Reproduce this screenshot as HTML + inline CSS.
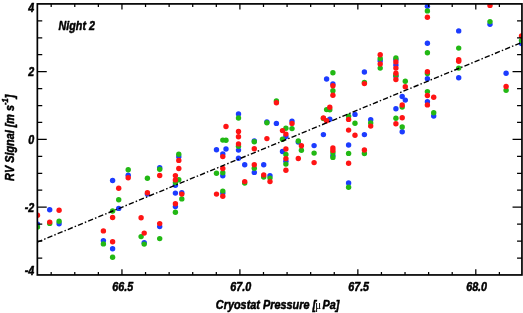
<!DOCTYPE html>
<html lang="en">
<head>
<meta charset="utf-8">
<title>RV Signal vs Cryostat Pressure - Night 2</title>
<style>
html,body{margin:0;padding:0;background:#fff;}
body{width:523px;height:313px;overflow:hidden;}
svg{display:block;}
text{font-family:"Liberation Sans",Arial,Helvetica,sans-serif;font-weight:bold;font-style:italic;font-size:12.4px;fill:#000;stroke:#000;stroke-width:0.5px;stroke-linejoin:round;}
.sym{font-family:"Liberation Serif","DejaVu Serif",serif;font-style:normal;font-weight:normal;stroke-width:0.15px;}
</style>
</head>
<body>
<svg width="523" height="313" viewBox="0 0 523 313">
<rect x="0" y="0" width="523" height="313" fill="#ffffff"/>
<defs><clipPath id="plot"><rect x="37.35" y="3.90" width="484.60" height="271.05"/></clipPath></defs>

<g clip-path="url(#plot)">
<g fill="#1c3cff">
<circle cx="37.5" cy="224.1" r="2.70"/>
<circle cx="49.7" cy="209.8" r="2.70"/>
<circle cx="59.1" cy="223.8" r="2.70"/>
<circle cx="103.4" cy="240.6" r="2.70"/>
<circle cx="112.6" cy="180.5" r="2.70"/>
<circle cx="112.6" cy="248.8" r="2.70"/>
<circle cx="118.7" cy="208.4" r="2.70"/>
<circle cx="128.2" cy="175.3" r="2.70"/>
<circle cx="144.2" cy="242.7" r="2.70"/>
<circle cx="147.4" cy="194.1" r="2.70"/>
<circle cx="159.7" cy="167.8" r="2.70"/>
<circle cx="159.7" cy="226.6" r="2.70"/>
<circle cx="175.4" cy="185.3" r="2.70"/>
<circle cx="175.4" cy="193.1" r="2.70"/>
<circle cx="175.4" cy="206.6" r="2.70"/>
<circle cx="178.8" cy="156.8" r="2.70"/>
<circle cx="181.8" cy="192.8" r="2.70"/>
<circle cx="216.5" cy="149.7" r="2.70"/>
<circle cx="222.8" cy="154.0" r="2.70"/>
<circle cx="222.8" cy="175.8" r="2.70"/>
<circle cx="222.8" cy="193.1" r="2.70"/>
<circle cx="226.0" cy="149.0" r="2.70"/>
<circle cx="238.5" cy="113.9" r="2.70"/>
<circle cx="238.5" cy="150.1" r="2.70"/>
<circle cx="238.5" cy="158.2" r="2.70"/>
<circle cx="244.7" cy="164.8" r="2.70"/>
<circle cx="254.3" cy="140.9" r="2.70"/>
<circle cx="254.3" cy="172.4" r="2.70"/>
<circle cx="263.7" cy="164.8" r="2.70"/>
<circle cx="266.9" cy="121.9" r="2.70"/>
<circle cx="270.0" cy="175.8" r="2.70"/>
<circle cx="276.4" cy="123.4" r="2.70"/>
<circle cx="282.5" cy="151.5" r="2.70"/>
<circle cx="285.9" cy="136.4" r="2.70"/>
<circle cx="285.9" cy="161.2" r="2.70"/>
<circle cx="292.0" cy="121.1" r="2.70"/>
<circle cx="298.3" cy="142.1" r="2.70"/>
<circle cx="314.1" cy="145.6" r="2.70"/>
<circle cx="323.4" cy="134.6" r="2.70"/>
<circle cx="326.6" cy="79.0" r="2.70"/>
<circle cx="329.8" cy="119.3" r="2.70"/>
<circle cx="332.9" cy="83.9" r="2.70"/>
<circle cx="332.9" cy="155.6" r="2.70"/>
<circle cx="348.6" cy="145.0" r="2.70"/>
<circle cx="348.6" cy="183.0" r="2.70"/>
<circle cx="355.0" cy="114.4" r="2.70"/>
<circle cx="364.4" cy="72.0" r="2.70"/>
<circle cx="364.4" cy="134.6" r="2.70"/>
<circle cx="370.7" cy="119.8" r="2.70"/>
<circle cx="380.2" cy="60.7" r="2.70"/>
<circle cx="395.9" cy="59.6" r="2.70"/>
<circle cx="395.9" cy="64.9" r="2.70"/>
<circle cx="395.9" cy="76.3" r="2.70"/>
<circle cx="395.9" cy="108.7" r="2.70"/>
<circle cx="402.2" cy="96.5" r="2.70"/>
<circle cx="402.2" cy="131.8" r="2.70"/>
<circle cx="405.3" cy="100.1" r="2.70"/>
<circle cx="427.4" cy="6.3" r="2.70"/>
<circle cx="427.4" cy="43.3" r="2.70"/>
<circle cx="427.4" cy="78.7" r="2.70"/>
<circle cx="427.4" cy="101.8" r="2.70"/>
<circle cx="433.7" cy="116.0" r="2.70"/>
<circle cx="458.7" cy="30.9" r="2.70"/>
<circle cx="458.7" cy="77.8" r="2.70"/>
<circle cx="490.0" cy="24.2" r="2.70"/>
<circle cx="506.1" cy="73.2" r="2.70"/>
<circle cx="521.5" cy="43.5" r="2.70"/>
</g>
<g fill="#22b814">
<circle cx="37.5" cy="227.1" r="2.70"/>
<circle cx="49.7" cy="223.4" r="2.70"/>
<circle cx="59.1" cy="221.3" r="2.70"/>
<circle cx="103.4" cy="243.9" r="2.70"/>
<circle cx="112.6" cy="211.0" r="2.70"/>
<circle cx="112.6" cy="257.3" r="2.70"/>
<circle cx="118.7" cy="199.8" r="2.70"/>
<circle cx="128.2" cy="169.8" r="2.70"/>
<circle cx="141.1" cy="236.6" r="2.70"/>
<circle cx="144.2" cy="244.1" r="2.70"/>
<circle cx="147.4" cy="178.2" r="2.70"/>
<circle cx="159.7" cy="169.2" r="2.70"/>
<circle cx="159.7" cy="238.6" r="2.70"/>
<circle cx="175.4" cy="182.6" r="2.70"/>
<circle cx="175.4" cy="212.2" r="2.70"/>
<circle cx="178.8" cy="154.3" r="2.70"/>
<circle cx="178.8" cy="179.7" r="2.70"/>
<circle cx="181.8" cy="198.9" r="2.70"/>
<circle cx="216.5" cy="173.2" r="2.70"/>
<circle cx="222.8" cy="140.1" r="2.70"/>
<circle cx="222.8" cy="172.8" r="2.70"/>
<circle cx="222.8" cy="191.1" r="2.70"/>
<circle cx="226.0" cy="140.3" r="2.70"/>
<circle cx="238.5" cy="118.0" r="2.70"/>
<circle cx="238.5" cy="146.3" r="2.70"/>
<circle cx="244.7" cy="183.1" r="2.70"/>
<circle cx="254.3" cy="141.8" r="2.70"/>
<circle cx="254.3" cy="168.3" r="2.70"/>
<circle cx="263.7" cy="177.0" r="2.70"/>
<circle cx="266.9" cy="122.7" r="2.70"/>
<circle cx="270.0" cy="178.1" r="2.70"/>
<circle cx="276.4" cy="100.9" r="2.70"/>
<circle cx="282.5" cy="139.3" r="2.70"/>
<circle cx="285.9" cy="128.3" r="2.70"/>
<circle cx="285.9" cy="154.5" r="2.70"/>
<circle cx="285.9" cy="164.1" r="2.70"/>
<circle cx="292.0" cy="128.6" r="2.70"/>
<circle cx="298.3" cy="141.0" r="2.70"/>
<circle cx="301.4" cy="150.3" r="2.70"/>
<circle cx="314.1" cy="153.1" r="2.70"/>
<circle cx="323.4" cy="118.5" r="2.70"/>
<circle cx="326.6" cy="109.6" r="2.70"/>
<circle cx="329.8" cy="109.8" r="2.70"/>
<circle cx="332.9" cy="72.8" r="2.70"/>
<circle cx="332.9" cy="90.8" r="2.70"/>
<circle cx="332.9" cy="152.8" r="2.70"/>
<circle cx="332.9" cy="157.4" r="2.70"/>
<circle cx="348.6" cy="116.2" r="2.70"/>
<circle cx="348.6" cy="153.4" r="2.70"/>
<circle cx="348.6" cy="187.3" r="2.70"/>
<circle cx="355.0" cy="123.3" r="2.70"/>
<circle cx="364.4" cy="82.5" r="2.70"/>
<circle cx="364.4" cy="153.5" r="2.70"/>
<circle cx="370.7" cy="122.9" r="2.70"/>
<circle cx="380.2" cy="58.5" r="2.70"/>
<circle cx="380.2" cy="68.1" r="2.70"/>
<circle cx="395.9" cy="57.9" r="2.70"/>
<circle cx="395.9" cy="75.3" r="2.70"/>
<circle cx="395.9" cy="118.2" r="2.70"/>
<circle cx="402.2" cy="107.0" r="2.70"/>
<circle cx="402.2" cy="126.9" r="2.70"/>
<circle cx="405.3" cy="81.2" r="2.70"/>
<circle cx="427.4" cy="10.9" r="2.70"/>
<circle cx="427.4" cy="52.7" r="2.70"/>
<circle cx="427.4" cy="73.5" r="2.70"/>
<circle cx="427.4" cy="91.6" r="2.70"/>
<circle cx="433.7" cy="112.7" r="2.70"/>
<circle cx="458.7" cy="48.1" r="2.70"/>
<circle cx="458.7" cy="68.1" r="2.70"/>
<circle cx="490.0" cy="21.6" r="2.70"/>
<circle cx="506.1" cy="90.2" r="2.70"/>
<circle cx="521.5" cy="40.6" r="2.70"/>
</g>
<g fill="#ff1414">
<circle cx="37.5" cy="215.3" r="2.70"/>
<circle cx="49.7" cy="222.1" r="2.70"/>
<circle cx="59.1" cy="210.2" r="2.70"/>
<circle cx="103.4" cy="230.9" r="2.70"/>
<circle cx="112.6" cy="217.5" r="2.70"/>
<circle cx="112.6" cy="241.8" r="2.70"/>
<circle cx="118.7" cy="188.3" r="2.70"/>
<circle cx="128.2" cy="177.8" r="2.70"/>
<circle cx="141.1" cy="217.8" r="2.70"/>
<circle cx="144.2" cy="233.1" r="2.70"/>
<circle cx="147.4" cy="192.8" r="2.70"/>
<circle cx="159.7" cy="175.5" r="2.70"/>
<circle cx="159.7" cy="223.6" r="2.70"/>
<circle cx="175.4" cy="175.6" r="2.70"/>
<circle cx="175.4" cy="179.9" r="2.70"/>
<circle cx="175.4" cy="203.8" r="2.70"/>
<circle cx="178.8" cy="160.4" r="2.70"/>
<circle cx="178.8" cy="168.5" r="2.70"/>
<circle cx="181.8" cy="194.1" r="2.70"/>
<circle cx="216.5" cy="194.1" r="2.70"/>
<circle cx="222.8" cy="156.6" r="2.70"/>
<circle cx="222.8" cy="168.5" r="2.70"/>
<circle cx="222.8" cy="196.2" r="2.70"/>
<circle cx="226.0" cy="126.5" r="2.70"/>
<circle cx="238.5" cy="131.5" r="2.70"/>
<circle cx="238.5" cy="136.7" r="2.70"/>
<circle cx="238.5" cy="143.9" r="2.70"/>
<circle cx="244.7" cy="181.6" r="2.70"/>
<circle cx="254.3" cy="148.7" r="2.70"/>
<circle cx="254.3" cy="164.8" r="2.70"/>
<circle cx="263.7" cy="174.9" r="2.70"/>
<circle cx="266.9" cy="138.6" r="2.70"/>
<circle cx="270.0" cy="181.6" r="2.70"/>
<circle cx="276.4" cy="102.7" r="2.70"/>
<circle cx="282.5" cy="130.6" r="2.70"/>
<circle cx="285.9" cy="134.1" r="2.70"/>
<circle cx="285.9" cy="149.0" r="2.70"/>
<circle cx="285.9" cy="158.6" r="2.70"/>
<circle cx="285.9" cy="170.2" r="2.70"/>
<circle cx="292.0" cy="123.4" r="2.70"/>
<circle cx="298.3" cy="158.5" r="2.70"/>
<circle cx="301.4" cy="145.8" r="2.70"/>
<circle cx="314.1" cy="162.6" r="2.70"/>
<circle cx="323.4" cy="117.9" r="2.70"/>
<circle cx="326.6" cy="120.8" r="2.70"/>
<circle cx="329.8" cy="107.3" r="2.70"/>
<circle cx="332.9" cy="85.8" r="2.70"/>
<circle cx="332.9" cy="95.3" r="2.70"/>
<circle cx="332.9" cy="147.9" r="2.70"/>
<circle cx="332.9" cy="150.4" r="2.70"/>
<circle cx="348.6" cy="119.4" r="2.70"/>
<circle cx="348.6" cy="130.1" r="2.70"/>
<circle cx="348.6" cy="163.3" r="2.70"/>
<circle cx="355.0" cy="135.2" r="2.70"/>
<circle cx="364.4" cy="83.6" r="2.70"/>
<circle cx="364.4" cy="150.0" r="2.70"/>
<circle cx="370.7" cy="126.1" r="2.70"/>
<circle cx="380.2" cy="54.8" r="2.70"/>
<circle cx="380.2" cy="64.0" r="2.70"/>
<circle cx="395.9" cy="61.9" r="2.70"/>
<circle cx="395.9" cy="68.1" r="2.70"/>
<circle cx="395.9" cy="73.2" r="2.70"/>
<circle cx="395.9" cy="79.5" r="2.70"/>
<circle cx="395.9" cy="123.8" r="2.70"/>
<circle cx="402.2" cy="105.0" r="2.70"/>
<circle cx="402.2" cy="117.7" r="2.70"/>
<circle cx="405.3" cy="86.7" r="2.70"/>
<circle cx="427.4" cy="17.2" r="2.70"/>
<circle cx="427.4" cy="71.8" r="2.70"/>
<circle cx="427.4" cy="95.5" r="2.70"/>
<circle cx="427.4" cy="104.9" r="2.70"/>
<circle cx="433.7" cy="97.3" r="2.70"/>
<circle cx="458.7" cy="59.8" r="2.70"/>
<circle cx="458.7" cy="61.2" r="2.70"/>
<circle cx="490.0" cy="5.4" r="2.70"/>
<circle cx="506.1" cy="86.5" r="2.70"/>
<circle cx="521.5" cy="36.0" r="2.70"/>
</g>
<line x1="37.3" y1="242.1" x2="521.6" y2="42.5" stroke="#000" stroke-width="1.4" stroke-dasharray="5.3 2.1 1.5 2.1"/>
</g>
<g stroke="#000" stroke-width="1.70" fill="none" stroke-linecap="butt">
<rect x="37.35" y="3.90" width="484.60" height="271.05"/>
<path stroke-width="1.25" d="M51.18 274.95v-3.00M51.18 3.90v3.00M74.77 274.95v-3.00M74.77 3.90v3.00M98.36 274.95v-3.00M98.36 3.90v3.00M121.95 274.95v-5.70M121.95 3.90v5.70M145.54 274.95v-3.00M145.54 3.90v3.00M169.13 274.95v-3.00M169.13 3.90v3.00M192.72 274.95v-3.00M192.72 3.90v3.00M216.31 274.95v-3.00M216.31 3.90v3.00M239.90 274.95v-5.70M239.90 3.90v5.70M263.49 274.95v-3.00M263.49 3.90v3.00M287.08 274.95v-3.00M287.08 3.90v3.00M310.67 274.95v-3.00M310.67 3.90v3.00M334.26 274.95v-3.00M334.26 3.90v3.00M357.85 274.95v-5.70M357.85 3.90v5.70M381.44 274.95v-3.00M381.44 3.90v3.00M405.03 274.95v-3.00M405.03 3.90v3.00M428.62 274.95v-3.00M428.62 3.90v3.00M452.21 274.95v-3.00M452.21 3.90v3.00M475.80 274.95v-5.70M475.80 3.90v5.70M499.39 274.95v-3.00M499.39 3.90v3.00M37.35 258.00h4.90M521.95 258.00h-4.90M37.35 241.06h4.90M521.95 241.06h-4.90M37.35 224.12h4.90M521.95 224.12h-4.90M37.35 207.18h9.40M521.95 207.18h-9.40M37.35 190.24h4.90M521.95 190.24h-4.90M37.35 173.30h4.90M521.95 173.30h-4.90M37.35 156.36h4.90M521.95 156.36h-4.90M37.35 139.42h9.40M521.95 139.42h-9.40M37.35 122.48h4.90M521.95 122.48h-4.90M37.35 105.54h4.90M521.95 105.54h-4.90M37.35 88.60h4.90M521.95 88.60h-4.90M37.35 71.66h9.40M521.95 71.66h-9.40M37.35 54.72h4.90M521.95 54.72h-4.90M37.35 37.78h4.90M521.95 37.78h-4.90M37.35 20.84h4.90M521.95 20.84h-4.90"/>
</g>
<text transform="translate(34.30 12.00) scale(0.866 1)" text-anchor="end">4</text>
<text transform="translate(34.30 76.20) scale(0.866 1)" text-anchor="end">2</text>
<text transform="translate(34.30 143.80) scale(0.866 1)" text-anchor="end">0</text>
<text transform="translate(34.30 211.60) scale(0.866 1)" text-anchor="end">-2</text>
<text transform="translate(34.30 275.30) scale(0.866 1)" text-anchor="end">-4</text>
<text transform="translate(122.75 291.20) scale(0.866 1)" text-anchor="middle">66.5</text>
<text transform="translate(240.70 291.20) scale(0.866 1)" text-anchor="middle">67.0</text>
<text transform="translate(358.65 291.20) scale(0.866 1)" text-anchor="middle">67.5</text>
<text transform="translate(476.60 291.20) scale(0.866 1)" text-anchor="middle">68.0</text>
<text transform="translate(58.60 30.00) scale(0.866 1)" text-anchor="start">Night 2</text>
<text transform="translate(215.80 309.00) scale(0.878 1)" text-anchor="start">Cryostat Pressure [<tspan class="sym" dx="-0.9">μ</tspan><tspan dx="1.5">Pa]</tspan></text>
<text transform="translate(13.9 180.9) rotate(-90) scale(0.876 1)">RV Signal [m s<tspan dy="-5.6" font-size="8.6">-1</tspan><tspan dy="5.6">]</tspan></text>
</svg>
</body>
</html>
